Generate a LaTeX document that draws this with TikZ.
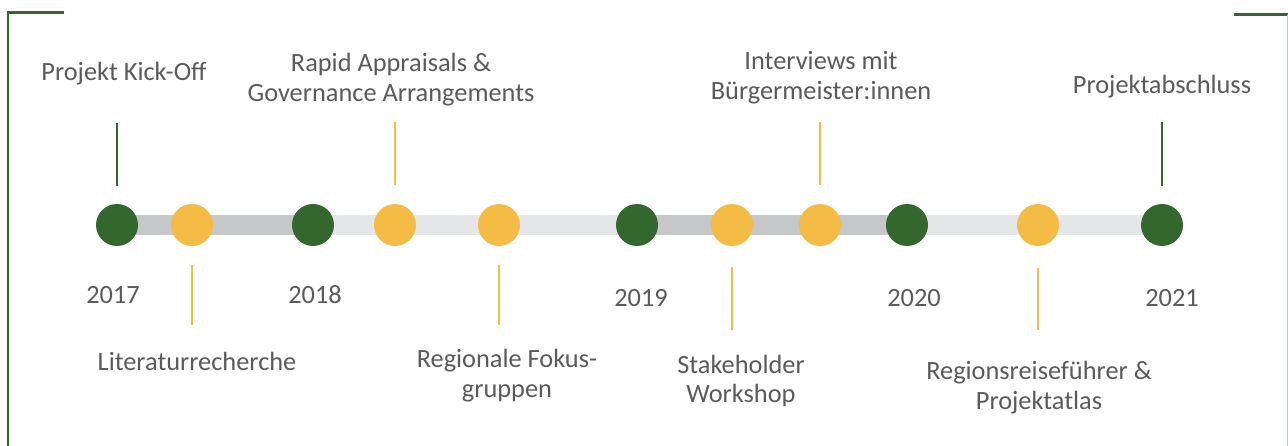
\documentclass[tikz,border=0pt]{standalone}
\usepackage{fontspec}
\setmainfont{Carlito}
\definecolor{gruen}{HTML}{33672E}
\definecolor{gelb}{HTML}{F5BC45}
\definecolor{balkenA}{HTML}{C6C7C9}
\definecolor{balkenB}{HTML}{E5E6E7}
\definecolor{schrift}{HTML}{5A5A5A}
\tikzset{
	punkt/.style={circle,inner sep=0pt,minimum size=0.84cm},
	balken/.style={line width=0.4cm,line cap=butt},
	strich/.style={line width=0.04cm,line cap=butt},
	rahmen/.style={gruen,line width=0.06cm,line cap=butt,line join=miter},
	txt/.style={text=schrift,align=center,inner sep=0pt,font=\fontsize{15}{17}\selectfont},
}
\begin{document}
\begin{tikzpicture}[x=0.02cm,y=-0.02cm,line join=round,line cap=round]
				\useasboundingbox (0,0) rectangle (1288,446);
				\path 
				(117,225) coordinate (J17)
				(313,225) coordinate (J18)
				(637,225) coordinate (J19)
				(907,225) coordinate (J20)
				(1162,225) coordinate (J21)
				;
				% Zeitstrahl
				\draw[balken,balkenA] (J17)--(J18) (J19)--(J20);
				\draw[balken,balkenB] (J18)--(J19) (J20)--(J21);
				\foreach \n/\x/\c in {J17/117/gruen,L/192/gelb,J18/313/gruen,R/395/gelb,F/499/gelb,J19/637/gruen,S/732/gelb,I/820/gelb,J20/907/gruen,P/1038/gelb,J21/1162/gruen}{
					\node[punkt,fill=\c] (d\n) at (\x,225) {};
				};
				% Striche
				\foreach \x/\a/\b/\c in {117/123/186/gruen,395/122/185/gelb,820/122/185/gelb,1162/122/186/gruen,192/265/325/gelb,499/265/325/gelb,732/267/330/gelb,1038/268/330/gelb}{
					\draw[strich,\c] (\x,\a)--(\x,\b);
				};
				% Jahre
				\foreach \j/\x/\y in {2017/113/295,2018/315/295,2019/641/298,2020/914/298,2021/1172/298}{
					\node[txt] (y\j) at (\x,\y) {\j};
				};
				% Meilensteine
				\node[txt] (kick) at (124,74) {Projekt Kick-Off};
				\node[txt] (rapid) at (391,80) {Rapid Appraisals \&\\Governance Arrangements};
				\node[txt] (interv) at (821,78) {Interviews mit\\Bürgermeister:innen};
				\node[txt] (ende) at (1162,87) {Projektabschluss};
				\node[txt] (lit) at (197,361) {Literaturrecherche};
				\node[txt] (fokus) at (507,376) {Regionale Fokus-\\gruppen};
				\node[txt] (stake) at (741,381) {Stakeholder\\Workshop};
				\node[txt] (reise) at (1039,388) {Regionsreiseführer \&\\Projektatlas};
				% Rahmen
				\draw[rahmen] (64,13)--(8,13)--(8,446);
				\draw[rahmen] (1234,15)--(1288,15);
				\draw[line width=0.02cm,balkenA] (1287,15)--(1287,446);
			\end{tikzpicture}
\end{document}
